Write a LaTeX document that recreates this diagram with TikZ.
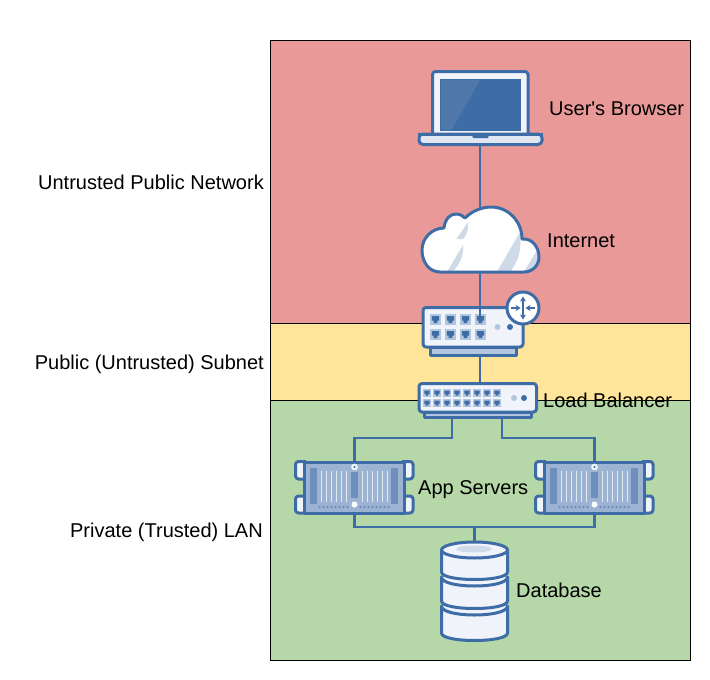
\documentclass[tikz,border=0pt]{standalone}
\usepackage{fontspec}
\newfontfamily\lblfont{Liberation Sans}
\usetikzlibrary{arrows.meta}
\definecolor{zred}{HTML}{EA9999}
\definecolor{zyellow}{HTML}{FFE599}
\definecolor{zgreen}{HTML}{B6D7A8}
\definecolor{iconblue}{HTML}{3D6CA6}
\definecolor{lightfill}{HTML}{F0F4FA}
\definecolor{midfill}{HTML}{B4C5DE}
\definecolor{cloudgrey}{HTML}{CFDAE8}
\definecolor{basefill}{HTML}{E0E7F2}
\definecolor{srvfill}{HTML}{9DB3D4}
\definecolor{srvdark}{HTML}{6E8FBC}
\definecolor{sheen}{HTML}{5079A9}
\tikzset{
  panel/.style={draw=black,line width=0.8pt},
  lbl/.style={inner sep=0pt,font=\lblfont\fontsize{20}{22}\selectfont,text=black},
  wire/.style={draw=iconblue,line width=2.7pt},
  icon/.style={draw=iconblue,line width=3pt,line join=round},
}
\newcommand{\portglyph}[3]{%
  \fill[midfill] (#1,#2) rectangle +(#3,#3);
  \fill[iconblue] ({#1+0.18*#3},{#2+0.2*#3}) -- ({#1+0.82*#3},{#2+0.2*#3}) -- ({#1+0.82*#3},{#2+0.6*#3}) -- ({#1+0.66*#3},{#2+0.6*#3}) -- ({#1+0.66*#3},{#2+0.82*#3}) -- ({#1+0.34*#3},{#2+0.82*#3}) -- ({#1+0.34*#3},{#2+0.6*#3}) -- ({#1+0.18*#3},{#2+0.6*#3}) -- cycle;
}
\newcommand{\servershape}{%
  \draw[icon,fill=lightfill,rounded corners=3pt] (306,461.5) -- (295.5,461.5) -- (295.5,479) -- (306,479);
  \draw[icon,fill=lightfill,rounded corners=3pt] (306,496) -- (295.5,496) -- (295.5,513) -- (306,513);
  \draw[icon,fill=lightfill,rounded corners=3pt] (402,461.5) -- (413,461.5) -- (413,479) -- (402,479);
  \draw[icon,fill=lightfill,rounded corners=3pt] (402,496) -- (413,496) -- (413,513) -- (402,513);
  \draw[icon,fill=srvfill] (304,462) rectangle (404,513);
  \fill[srvdark] (310,468) rectangle (317,504);
  \fill[srvdark] (391,468) rectangle (398,504);
  \fill[srvdark] (351,472) rectangle (358,498);
  \foreach \vx in {321,326,331,336,341,346,362,367,372,377,382,387}
    \draw[lightfill,line width=0.9pt,opacity=0.85] (\vx,471) -- (\vx,502);
  \foreach \dx in {319.5,323.5,327.5,331.5,335.5,339.5,343.5,347.5,360.5,364.5,368.5,372.5,376.5,380.5,384.5,388.5}
    \fill[srvdark] (\dx,507) circle (1.3);
  \fill[lightfill] (354.5,467) circle (3.4);
  \fill[iconblue] (354.5,467) circle (1.2);
  \fill[white] (354.5,504.5) circle (3);
}
\newcommand{\dbsection}[3]{% top-side y, bottom-side y, sag of the top edge control
  \fill[lightfill] (441.5,#1) -- (441.5,#2) .. controls (441.5,{#2+10}) and (507.5,{#2+10}) .. (507.5,#2) -- (507.5,#1) -- cycle;
  \draw[icon] (441.5,#1) -- (441.5,#2) .. controls (441.5,{#2+10}) and (507.5,{#2+10}) .. (507.5,#2) -- (507.5,#1) .. controls (507.5,{#1+#3}) and (441.5,{#1+#3}) .. (441.5,#1) -- cycle;
}
\begin{document}
\begin{tikzpicture}[x=1pt,y=-1pt]
\useasboundingbox (0,0) rectangle (710,680);
% bands
\fill[zred] (270,40) rectangle (690,323);
\fill[zyellow] (270,323) rectangle (690,400);
\fill[zgreen] (270,400) rectangle (690,660);
\draw[panel] (270,40) rectangle (690,660);
\draw[panel] (270,323) -- (690,323);
\draw[panel] (270,400) -- (690,400);
% named extents of the icons
\node[inner sep=0pt,minimum width=125pt,minimum height=74pt] (laptop) at (480,108) {};
\node[inner sep=0pt,minimum width=119pt,minimum height=66pt] (cloud) at (480,240) {};
\node[inner sep=0pt,minimum width=101pt,minimum height=48pt] (router) at (480,331) {};
\node[inner sep=0pt,minimum width=119pt,minimum height=35pt] (balancer) at (477.5,400.5) {};
\node[inner sep=0pt,minimum width=118pt,minimum height=52pt] (serverL) at (354.5,487.5) {};
\node[inner sep=0pt,minimum width=118pt,minimum height=52pt] (serverR) at (594.5,487.5) {};
\node[inner sep=0pt,minimum width=67pt,minimum height=97pt] (db) at (474.5,590.5) {};
\coordinate (busL) at (354.5,527);
\coordinate (busR) at (594.5,527);
\coordinate (busM) at (474.5,527);
\coordinate (busT) at (0,438);
\coordinate (portT) at (480,323);
\coordinate (balL) at (452,418);
\coordinate (balR) at (502,418);
% connectors
\draw[wire] (laptop.south) -- (cloud.north);
\draw[wire] (cloud.south) -- (router.north);
\draw[wire] (router.south) -- (router.south |- balancer.north);
\draw[wire] (balL) -- (balL |- busT) -- (busT -| serverL.north) -- (serverL.north);
\draw[wire] (balR) -- (balR |- busT) -- (busT -| serverR.north) -- (serverR.north);
\draw[wire] (serverL.south) -- (busL) -- (busR) -- (serverR.south);
\draw[wire] (busM) -- (db.north);
% laptop
\draw[icon,fill=lightfill,rounded corners=3pt] (432.5,134) -- (432.5,71.5) -- (528,71.5) -- (528,134);
\fill[iconblue] (440,79) rectangle (521,131);
\fill[sheen] (441,80) -- (480,80) -- (451.5,130) -- (441,130) -- cycle;
\draw[icon,fill=basefill,rounded corners=4pt] (419,134) -- (542,134) -- (542,144.5) -- (419,144.5) -- cycle;
\draw[iconblue,line width=3pt] (418,134) -- (543,134);
\fill[iconblue] (472,135) -- (489,135) -- (488,138) -- (473,138) -- cycle;
% cloud
\begin{scope}
\clip (440,272) .. controls (429,272) and (422,262) .. (422,250) .. controls (422,238) and (432,228) .. (444,228) .. controls (445,219) and (450,214) .. (456,214) .. controls (460,214) and (463,216) .. (465,218) .. controls (472,211) and (482,207) .. (491,207) .. controls (508,207) and (522,221) .. (522,239) .. controls (532,238) and (539,247) .. (539,257) .. controls (539,266) and (532,272) .. (524,272) -- cycle;
\fill[white] (415,200) rectangle (545,280);
\fill[cloudgrey] (520,232) -- (497,272) -- (510,272) .. controls (518,262) and (522,250) .. (520,232) -- cycle;
\fill[cloudgrey] (537,250) -- (524,272) -- (540,272) -- (540,250) -- cycle;
\fill[cloudgrey] (463,245) -- (447,272) -- (452,272) .. controls (460,265) and (464,255) .. (463,245) -- cycle;
\fill[cloudgrey] (468,222) -- (456.5,239) -- (463,239) .. controls (467,235) and (469,228) .. (468,222) -- cycle;
\end{scope}
\draw[icon] (440,272) .. controls (429,272) and (422,262) .. (422,250) .. controls (422,238) and (432,228) .. (444,228) .. controls (445,219) and (450,214) .. (456,214) .. controls (460,214) and (463,216) .. (465,218) .. controls (472,211) and (482,207) .. (491,207) .. controls (508,207) and (522,221) .. (522,239) .. controls (532,238) and (539,247) .. (539,257) .. controls (539,266) and (532,272) .. (524,272) -- cycle;
% router
\draw[icon,fill=midfill] (430,347) rectangle (516,355);
\draw[icon,fill=lightfill,rounded corners=3pt] (423,307.5) rectangle (523,347);
\foreach \px in {430,445,460,475} {
  \portglyph{\px}{314}{11}
  \portglyph{\px}{329}{11}
}
\fill[midfill] (497.5,327) circle (3);
\fill[iconblue] (510,327) circle (3);
\draw[wire] (router.north) -- (portT);
\draw[icon,fill=white] (523,308) circle (16);
\draw[iconblue,line width=1.6pt,{Stealth[length=5pt,width=6pt]}-{Stealth[length=5pt,width=6pt]}] (523,296.5) -- (523,319.5);
\draw[iconblue,line width=1.6pt,-{Stealth[length=5pt,width=6pt]}] (511,308) -- (520.5,308);
\draw[iconblue,line width=1.6pt,-{Stealth[length=5pt,width=6pt]}] (535,308) -- (525.5,308);
% load balancer
\draw[icon,fill=midfill] (424,412) rectangle (531,417.5);
\draw[icon,fill=lightfill,rounded corners=3pt] (419,383.5) rectangle (536.5,412);
\foreach \px in {423,433,443,453,463,473,483,493} {
  \portglyph{\px}{389}{8}
  \portglyph{\px}{399}{8}
}
\fill[midfill] (514,398) circle (3);
\fill[iconblue] (524,398) circle (3);
% servers
\servershape
\begin{scope}[xshift=240pt]
\servershape
\end{scope}
% database
\dbsection{606}{633}{12}
\dbsection{577}{601}{12}
\dbsection{550}{572}{0}
\draw[icon,fill=lightfill] (474.5,550) ellipse [x radius=33,y radius=8];
\fill[cloudgrey] (474,549) ellipse [x radius=18,y radius=3.5];
% labels
\node[lbl,anchor=mid west] (tbrowser) at (549,113) {User's Browser};
\node[lbl,anchor=mid west] (tinternet) at (547,245) {Internet};
\node[lbl,anchor=mid west] (tlb) at (543,405) {Load Balancer};
\node[lbl,anchor=mid west] (tapp) at (418,492) {App Servers};
\node[lbl,anchor=mid west] (tdb) at (516,595) {Database};
\node[lbl,anchor=mid east] (tunt) at (264,187) {Untrusted Public Network};
\node[lbl,anchor=mid east] (tsub) at (264,367) {Public (Untrusted) Subnet};
\node[lbl,anchor=mid east] (tlan) at (263,535) {Private (Trusted) LAN};
\end{tikzpicture}
\end{document}
